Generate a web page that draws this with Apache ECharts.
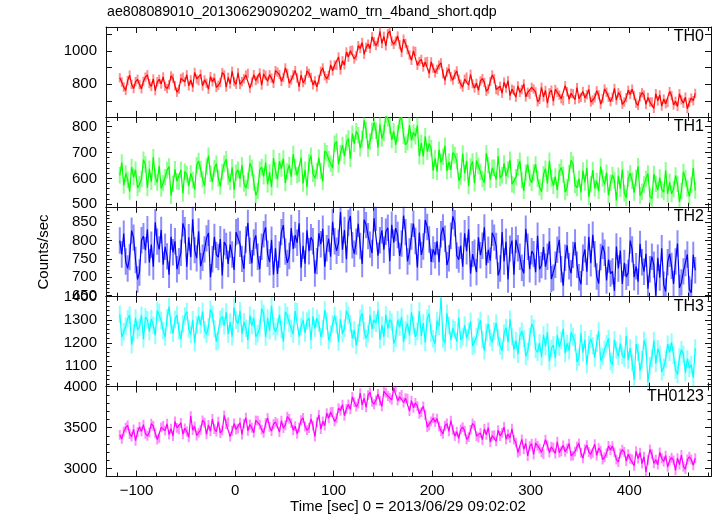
<!DOCTYPE html>
<html><head><meta charset="utf-8">
<script src="https://cdn.jsdelivr.net/npm/echarts@6/dist/echarts.min.js"></script>
<style>html,body{margin:0;padding:0;background:#fff}#c{width:717px;height:516px}</style>
</head><body><div id="c"></div>
<script>
const chartTitle = "ae808089010_20130629090202_wam0_trn_4band_short.qdp";
const xName = "Time [sec] 0 = 2013/06/29 09:02:02";
const yName = "Counts/sec";
const bandNames = ["TH0", "TH1", "TH2", "TH3", "TH0123"];
const bandColors = ["#ff0000", "#00ff00", "#0000ff", "#00ffff", "#ff00ff"];
const tStart = -117, tStep = 2;

const th0 = [
839,813,783,763,822,855,799,774,816,830,
798,773,818,843,857,804,787,832,762,815,
830,802,844,788,774,797,850,836,791,752,
770,835,843,815,857,790,826,782,871,832,
821,860,790,826,807,770,846,815,837,781,
794,811,870,856,783,842,802,878,816,800,
869,799,816,833,855,866,777,813,858,822,
832,868,795,862,854,818,857,837,806,882,
873,859,817,842,898,865,806,826,856,882,
838,785,855,810,827,880,866,841,796,821,
784,828,878,898,851,834,854,916,881,916,
914,964,886,941,916,994,963,1002,1005,952,
971,1032,1015,1051,980,1022,1041,1015,1085,1056,
1033,1054,1118,1045,1088,1031,1104,1120,1059,1040,
1060,1090,1038,992,1071,1045,1008,976,944,1001,
997,914,937,950,904,934,937,865,935,897,
869,890,915,929,863,824,874,893,845,825,
859,880,830,801,783,831,843,794,860,803,
778,806,764,820,834,811,758,772,817,856,
833,768,760,788,746,813,777,821,732,771,
764,722,790,751,768,802,724,752,740,782,
771,754,695,709,782,723,763,687,749,765,
699,769,752,735,713,702,791,755,710,746,
743,707,780,713,721,757,718,738,769,693,
705,719,761,736,680,713,772,752,722,696,
722,775,705,750,733,680,694,719,764,739,
771,732,687,673,726,749,735,679,721,693,
694,655,744,700,736,669,711,683,691,756,
732,676,698,667,743,706,687,723,653,692,
717,701,745];

const th1 = [
612,661,573,619,594,549,644,605,633,563,
577,598,672,654,563,637,587,682,605,584,
649,561,582,604,632,646,533,579,635,589,
587,633,542,626,616,570,619,594,556,651,
667,636,597,572,646,688,618,586,639,657,
600,569,625,657,674,607,586,643,555,622,
633,598,651,580,563,591,658,640,584,535,
552,633,644,608,661,577,623,566,679,630,
596,666,638,677,582,627,652,606,694,645,
612,618,680,580,633,566,662,688,618,601,
629,680,629,588,706,697,674,657,641,734,
743,654,698,729,686,738,754,676,773,734,
782,767,717,752,825,786,715,743,784,817,
784,719,809,754,777,846,832,803,749,782,
730,774,825,837,764,730,741,806,748,778,
763,805,686,737,685,763,704,734,717,630,
678,626,711,662,684,726,628,664,633,700,
690,667,591,607,696,620,668,571,646,665,
581,669,648,626,598,584,697,651,595,641,
641,595,686,602,612,658,609,634,672,577,
573,604,643,668,594,552,622,654,601,583,
623,654,598,566,549,616,637,580,668,601,
572,607,554,625,642,614,547,565,621,670,
655,574,563,599,546,630,584,641,528,577,
632,562,590,551,646,601,576,622,534,583,
613,592,515,610,560,634,543,525,599,620,
591,545,601,647,534,548,576,598,619,531,
522,617,579,554,603,557,547,631,540,586,
540,558,611,579,509,551,625,600,561,530,
574,641,553];

const th2 = [
800,762,819,743,724,755,827,808,747,694,
713,801,812,774,831,740,789,729,850,797,
776,829,734,783,757,707,810,768,798,722,
744,767,847,828,729,809,755,858,774,752,
825,730,753,776,806,821,700,749,810,761,
755,804,705,796,785,736,789,762,720,823,
826,791,750,723,803,848,772,738,795,814,
756,722,783,817,836,764,741,802,707,779,
709,762,823,842,770,739,758,834,777,815,
794,847,726,786,737,828,771,809,798,710,
744,820,790,832,729,779,805,756,851,798,
772,794,878,775,829,749,848,867,787,764,
797,846,785,736,857,842,812,789,766,861,
862,759,801,828,775,824,835,744,843,794,
834,815,758,792,868,823,743,770,811,846,
799,727,822,761,784,856,837,803,742,776,
760,798,741,817,836,805,733,752,813,866,
847,759,748,786,729,820,771,831,710,763,
767,714,809,760,786,836,733,775,745,821,
808,785,705,724,823,743,797,694,778,800,
707,802,779,756,726,711,832,783,722,771,
763,714,813,722,733,782,729,756,798,695,
699,734,775,802,722,677,753,787,730,711,
761,795,734,700,681,753,776,715,810,738,
816,763,702,683,755,786,767,691,748,710,
716,663,784,724,773,682,739,701,712,800,
776,700,730,688,791,741,715,764,669,722,
756,734,650,753,699,779,680,661,741,764,
731,682,743,792,671,686,716,739,762,667,
658,761,719];

const th3 = [
1324,1224,1248,1272,1304,1320,1192,1244,1308,1256,
1268,1320,1216,1312,1300,1248,1304,1276,1232,1340,
1333,1297,1253,1225,1309,1357,1277,1241,1301,1321,
1252,1216,1280,1316,1336,1260,1236,1300,1200,1276,
1317,1277,1337,1257,1237,1269,1345,1325,1261,1205,
1210,1302,1314,1274,1334,1238,1290,1226,1354,1298,
1283,1339,1239,1291,1263,1211,1319,1275,1307,1227,
1240,1264,1348,1328,1224,1308,1252,1360,1272,1248,
1270,1322,1258,1206,1334,1318,1286,1262,1238,1338,
1335,1227,1271,1299,1243,1295,1307,1211,1315,1263,
1306,1286,1226,1262,1342,1294,1210,1238,1282,1318,
1279,1203,1303,1239,1263,1339,1319,1283,1219,1255,
1188,1244,1308,1328,1252,1220,1240,1320,1260,1300,
1285,1341,1213,1277,1225,1321,1261,1301,1289,1197,
1220,1300,1268,1312,1204,1256,1284,1232,1332,1276,
1226,1250,1338,1230,1286,1202,1306,1326,1242,1218,
1196,1296,1272,1395,1216,1200,1328,1276,1212,1264,
1257,1205,1309,1213,1225,1277,1221,1249,1293,1185,
1190,1226,1270,1298,1214,1166,1246,1282,1222,1202,
1250,1286,1222,1186,1166,1242,1266,1202,1302,1226,
1170,1210,1150,1230,1250,1218,1142,1162,1226,1282,
1263,1171,1159,1199,1139,1235,1183,1247,1119,1175,
1190,1134,1234,1182,1210,1262,1154,1198,1166,1246,
1225,1201,1117,1137,1241,1157,1213,1105,1193,1217,
1187,1135,1199,1251,1123,1139,1171,1195,1219,1119,
1105,1213,1169,1141,1197,1145,1133,1229,1125,1177,
1114,1040,1194,1158,1078,1126,1210,1182,1030,1102,
1134,1210,1110,1174,1150,1074,1094,1130,1194,1158,
1202,1146,1082,1062,1138,1170,1150,1070,1130,1090,
1105,1049,1177];

const th0123 = [
3412,3363,3451,3501,3528,3423,3390,3479,3341,3446,
3509,3454,3537,3426,3399,3443,3548,3520,3432,3355,
3376,3503,3520,3464,3547,3415,3487,3398,3575,3498,
3481,3558,3420,3492,3453,3382,3640,3470,3514,3404,
3440,3473,3589,3561,3418,3534,3456,3605,3484,3451,
3572,3434,3467,3650,3545,3567,3390,3462,3550,3478,
3488,3560,3417,3549,3620,3461,3538,3499,3439,3588,
3586,3537,3476,3437,3553,3619,3509,3459,3542,3570,
3551,3446,3584,3495,3528,3633,3606,3556,3468,3517,
3425,3502,3590,3618,3513,3469,3496,3607,3524,3390,
3568,3655,3483,3577,3525,3677,3614,3690,3693,3576,
3614,3737,3706,3781,3645,3729,3782,3723,3874,3811,
3756,3794,3920,3776,3859,3748,3896,3929,3816,3785,
3833,3910,3827,3760,3942,3925,3886,3862,3839,3982,
3988,3829,3874,3898,3806,3858,3854,3702,3830,3743,
3800,3762,3669,3689,3759,3653,3507,3526,3577,3616,
3568,3610,3516,3459,3425,3523,3550,3454,3586,3474,
3396,3451,3368,3479,3506,3462,3357,3385,3473,3550,
3524,3397,3380,3436,3353,3485,3413,3502,3325,3402,
3409,3332,3470,3398,3437,3508,3359,3420,3376,3486,
3355,3317,3196,3219,3357,3236,3309,3155,3273,3304,
3173,3311,3278,3244,3200,3178,3355,3283,3195,3267,
3257,3185,3328,3196,3212,3284,3207,3246,3306,3157,
3159,3208,3269,3308,3192,3126,3236,3286,3203,3175,
3194,3299,3161,3250,3217,3112,3139,3189,3277,3228,
3275,3198,3110,3082,3187,3231,3204,3093,3176,3121,
3112,3035,3212,3123,3195,3063,3146,2960,3107,3234,
3176,3066,3110,3049,3198,3127,3088,3160,3022,3099,
3134,3101,2980,3129,3051,3167,3024,2996,3112,3145,
3112,3040,3128];

const bandErrors = [28, 32, 36, 38, 60];
const xMin = -131, xMax = 483;
const xMajorTicks = [-100, 0, 100, 200, 300, 400];
const xMinorTicks = [-120, -80, -60, -40, -20, 20, 40, 60, 80, 120, 140, 160, 180, 220, 240, 260, 280, 320, 340, 360, 380, 420, 440, 460, 480];
const yRanges = [[604, 1144], [490, 838], [647, 892], [1010, 1400], [2905, 4000]];
const yLabelTicks = [[800, 1000], [500, 600, 700, 800], [650, 700, 750, 800, 850], [1100, 1200, 1300, 1400], [3000, 3500, 4000]];
const yMajorTicks = [[700, 800, 900, 1000, 1100], [500, 600, 700, 800], [650, 700, 750, 800, 850], [1100, 1200, 1300, 1400], [3000, 3500, 4000]];
const yMinorTicks = [
  [],
  [520, 540, 560, 580, 620, 640, 660, 680, 720, 740, 760, 780, 820],
  [660, 670, 680, 690, 710, 720, 730, 740, 760, 770, 780, 790, 810, 820, 830, 840, 860, 870, 880, 890],
  [1020, 1040, 1060, 1080, 1120, 1140, 1160, 1180, 1220, 1240, 1260, 1280, 1320, 1340, 1360, 1380],
  [3000, 3100, 3200, 3300, 3400, 3600, 3700, 3800, 3900]
];

const bands = [th0, th1, th2, th3, th0123];
const FONT = "'Liberation Sans', Arial, Helvetica, sans-serif";
const gridTop = 27, gridH = 89.9, gridLeft = 106, gridRight = 6;

const chart = echarts.init(document.getElementById('c'), null, {renderer: 'canvas'});
const grids = [], xAxes = [], yAxes = [], series = [];
const axCol = '#111';

bands.forEach((vals, i) => {
  grids.push({left: gridLeft, right: gridRight, top: gridTop + gridH * i, height: gridH, show: false, containLabel: false});
  const isLast = i === bands.length - 1;
  const mkX = (pos, ticks, len, line, labels) => ({
    type: 'value', gridIndex: i, position: pos, min: xMin, max: xMax,
    axisLine: {show: line, onZero: false, lineStyle: {color: axCol, width: 1}},
    axisTick: {show: true, inside: true, length: len, customValues: ticks, lineStyle: {color: axCol, width: 1}},
    axisLabel: labels ? {show: true, customValues: xMajorTicks, fontSize: 15, color: '#000', fontFamily: FONT, margin: 7,
      formatter: v => String(v).replace('-', '\u2212')} : {show: false},
    splitLine: {show: false}
  });
  xAxes.push(mkX('bottom', xMajorTicks, 6, true, isLast));
  xAxes.push(mkX('bottom', xMinorTicks, 4, false, false));
  xAxes.push(mkX('top', xMajorTicks, 6, true, false));
  xAxes.push(mkX('top', xMinorTicks, 4, false, false));
  const mkY = (pos, ticks, len, line, labels) => ({
    type: 'value', gridIndex: i, position: pos, min: yRanges[i][0], max: yRanges[i][1],
    axisLine: {show: line, onZero: false, lineStyle: {color: axCol, width: 1}},
    axisTick: {show: ticks.length > 0, inside: true, length: len, customValues: ticks, lineStyle: {color: axCol, width: 1}},
    axisLabel: labels ? {show: true, customValues: yLabelTicks[i], fontSize: 15, color: '#000', fontFamily: FONT, margin: 9,
      formatter: v => String(v)} : {show: false},
    splitLine: {show: false}
  });
  yAxes.push(mkY('left', yMajorTicks[i], 6, true, true));
  yAxes.push(mkY('left', yMinorTicks[i], 3.5, false, false));
  yAxes.push(mkY('right', yMajorTicks[i], 6, true, false));
  yAxes.push(mkY('right', yMinorTicks[i], 3.5, false, false));

  const pts = vals.map((v, k) => [tStart + tStep * k, v]);
  const errPts = vals.map((v, k) => [tStart + tStep * k, v, bandErrors[i]]);
  const col = bandColors[i];
  series.push({
    type: 'custom', xAxisIndex: i * 4, yAxisIndex: i * 4, clip: true, silent: true, z: 2,
    data: errPts,
    renderItem: (params, api) => {
      const x = api.value(0), y = api.value(1), e = api.value(2);
      const a = api.coord([x, y - e]), b = api.coord([x, y + e]);
      return {type: 'line', shape: {x1: a[0], y1: a[1], x2: b[0], y2: b[1]},
        style: {stroke: col, lineWidth: 2, opacity: 0.45}};
    }
  });
  series.push({
    type: 'line', xAxisIndex: i * 4, yAxisIndex: i * 4, data: pts, showSymbol: false, symbol: 'none',
    clip: true, silent: true, z: 3, lineStyle: {color: col, width: 1.2}, itemStyle: {color: col}
  });
});

const graphics = [
  {type: 'text', left: 107, top: 5, style: {text: chartTitle, font: '14.2px ' + FONT, fill: '#000'}},
  {type: 'text', x: 44, y: 252, rotation: Math.PI / 2,
    style: {text: yName, font: '15px ' + FONT, fill: '#000', align: 'center', verticalAlign: 'middle'}},
  {type: 'text', x: 408, y: 507, style: {text: xName, font: '15px ' + FONT, fill: '#000', align: 'center', verticalAlign: 'middle'}}
];
bandNames.forEach((n, i) => {
  graphics.push({type: 'text', x: 704, y: gridTop + gridH * i + 10,
    style: {text: n, font: '16px ' + FONT, fill: '#000', align: 'right', verticalAlign: 'middle'}});
});

chart.setOption({
  animation: false,
  backgroundColor: '#fff',
  grid: grids, xAxis: xAxes, yAxis: yAxes, series: series, graphic: graphics
});
</script>
</body></html>
